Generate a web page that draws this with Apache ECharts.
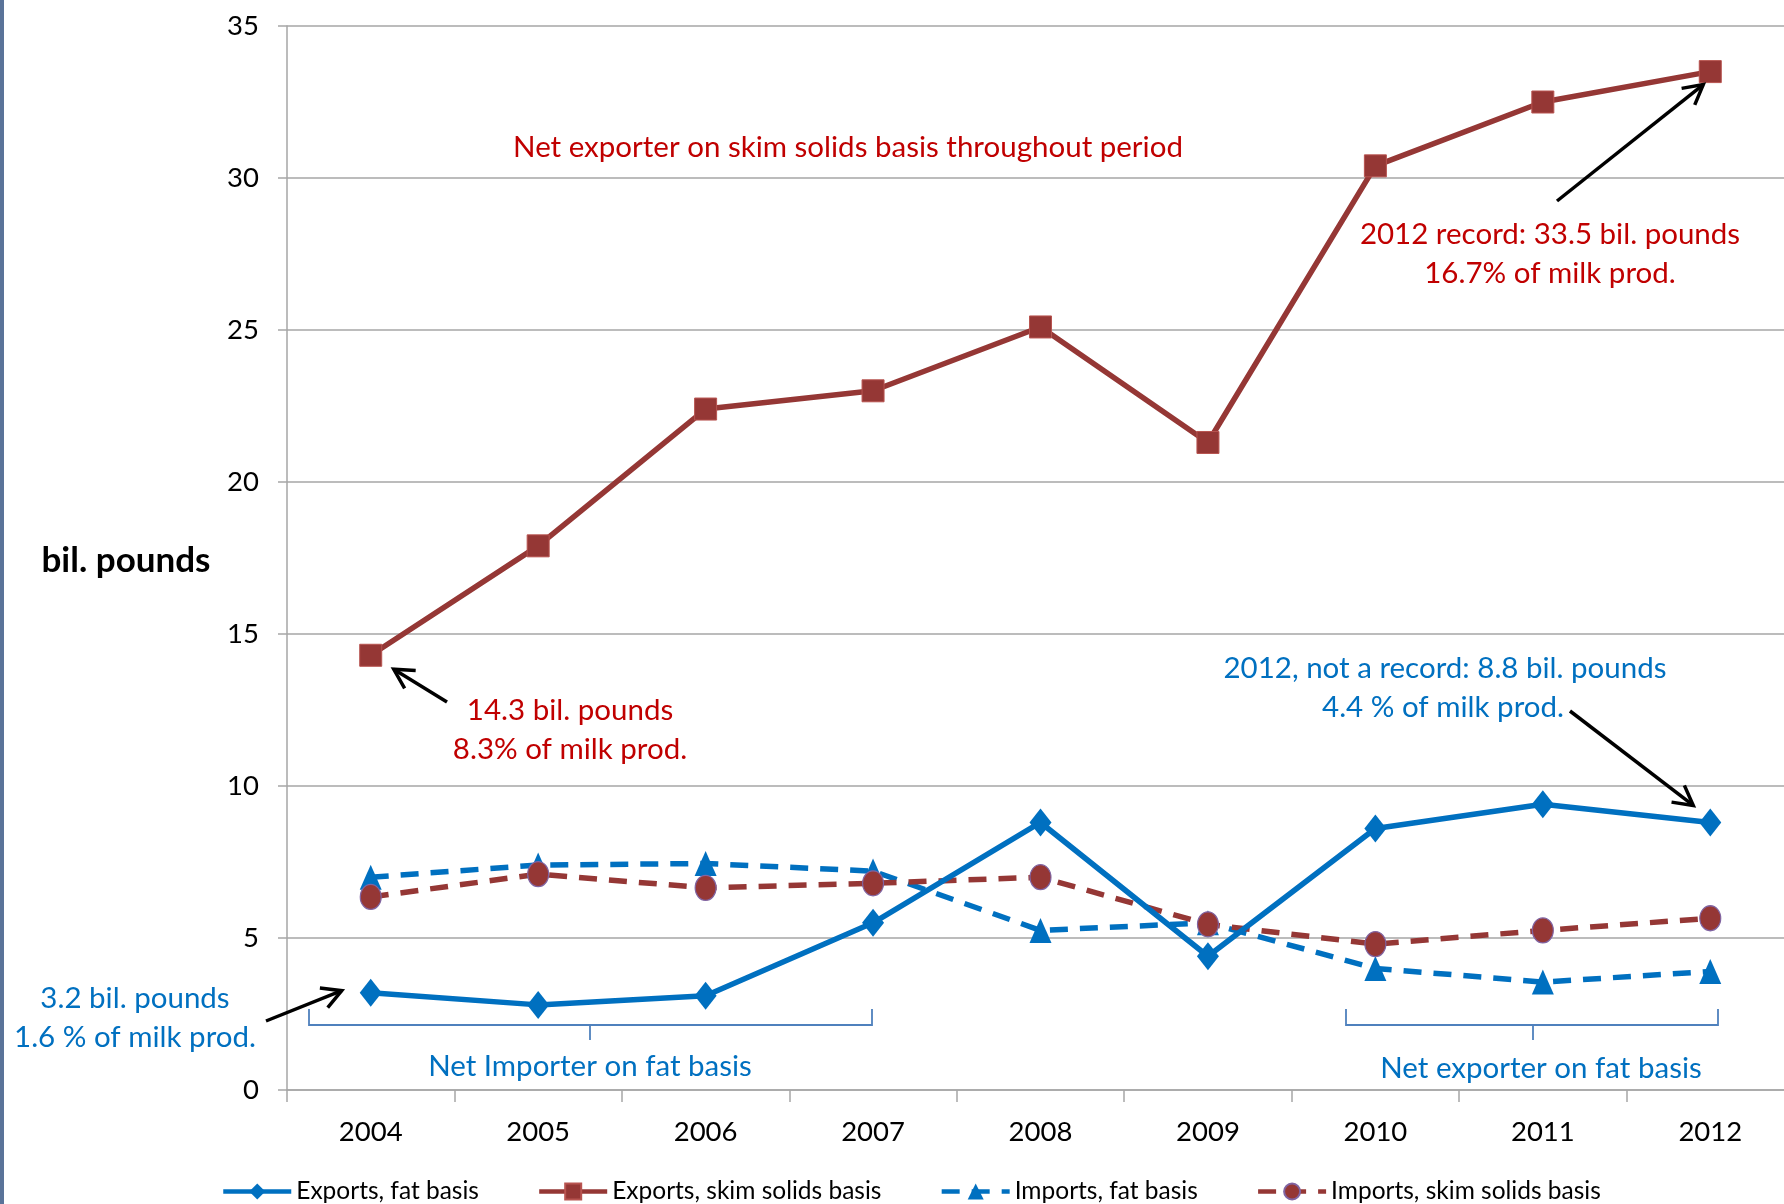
<!DOCTYPE html>
<html><head><meta charset="utf-8">
<script src="https://cdn.jsdelivr.net/npm/echarts@6/dist/echarts.min.js"></script>
<style>html,body{margin:0;padding:0;background:#fff;overflow:hidden;width:1784px;height:1204px}#c{width:1800px;height:1204px}</style>
</head><body><div id="c"></div>
<script>
// ---- data ----
const years = ['2004','2005','2006','2007','2008','2009','2010','2011','2012'];
const exportsFat  = [3.2, 2.8, 3.1, 5.5, 8.8, 4.4, 8.6, 9.4, 8.8];
const exportsSkim = [14.3, 17.9, 22.4, 23.0, 25.1, 21.3, 30.4, 32.5, 33.5];
const importsFat  = [7.0, 7.4, 7.45, 7.2, 5.25, 5.5, 4.0, 3.55, 3.9];
const importsSkim = [6.35, 7.1, 6.65, 6.8, 7.0, 5.45, 4.8, 5.25, 5.65];
const yMin = 0, yMax = 35, yStep = 5;
const seriesNames = ['Exports, fat basis','Exports, skim solids basis','Imports, fat basis','Imports, skim solids basis'];

const BLUE = '#0070C0', RED = '#953735', ANN_RED = '#C00000';
const FONT = 'Lato';
const ANN = 29.5;

const chart = echarts.init(document.getElementById('c'), null, {renderer:'canvas'});
chart.setOption({
  animation:false,
  backgroundColor:'#fff',
  grid:{left:287, right:6, top:26, bottom:114, containLabel:false},
  xAxis:{type:'category', data:years, boundaryGap:true,
    axisLine:{lineStyle:{color:'#A6A6A6', width:1.5}},
    axisTick:{show:true, length:12, lineStyle:{color:'#A6A6A6', width:1.5}},
    axisLabel:{color:'#000', fontFamily:FONT, fontSize:27.5, margin:28}},
  yAxis:{type:'value', min:yMin, max:yMax, interval:yStep,
    axisLine:{show:true, lineStyle:{color:'#A6A6A6', width:1.5}},
    axisTick:{show:true, length:9, lineStyle:{color:'#A6A6A6', width:1.5}},
    splitLine:{lineStyle:{color:'#A6A6A6', width:1.5}},
    axisLabel:{color:'#000', fontFamily:FONT, fontSize:27.5, margin:28}},
  legend:{left:216, top:1174, itemWidth:68, itemHeight:20, itemGap:58,
    lineStyle:{width:4.5},
    textStyle:{fontFamily:FONT, fontSize:24.5, color:'#000'},
    data:seriesNames},
  series:[
    {name:seriesNames[0], type:'line', data:exportsFat, symbol:'diamond', symbolSize:[22,28],
      lineStyle:{color:BLUE, width:5.5}, itemStyle:{color:BLUE}, z:5},
    {name:seriesNames[1], type:'line', data:exportsSkim, symbol:'rect', symbolSize:22,
      lineStyle:{color:RED, width:5.5}, itemStyle:{color:RED, borderColor:'#B85450', borderWidth:1}, z:5},
    {name:seriesNames[2], type:'line', data:importsFat, symbol:'triangle', symbolSize:[22,25],
      lineStyle:{color:BLUE, width:5.5, type:[18,12]}, itemStyle:{color:BLUE}, z:4},
    {name:seriesNames[3], type:'line', data:importsSkim, symbol:'circle', symbolSize:[21,25],
      lineStyle:{color:RED, width:5.5, type:[18,12]}, itemStyle:{color:RED, borderColor:'#8064A2', borderWidth:1.2}, z:4}
  ]
});

function px(i, v){ return chart.convertToPixel({xAxisIndex:0, yAxisIndex:0}, [i, v]); }
function arrow(x1,y1,x2,y2){
  const a = Math.atan2(y2-y1, x2-x1), L = 22, w = 0.5;
  const h1 = [x2 - L*Math.cos(a-w), y2 - L*Math.sin(a-w)];
  const h2 = [x2 - L*Math.cos(a+w), y2 - L*Math.sin(a+w)];
  return [
    {type:'line', shape:{x1, y1, x2, y2}, style:{stroke:'#000', lineWidth:3.5}, z:20},
    {type:'polyline', shape:{points:[h1,[x2,y2],h2]}, style:{stroke:'#000', lineWidth:3.5, fill:null}, z:20}
  ];
}
function txt(text, x, y, color, size, extra){
  return {type:'text', z:20, style:Object.assign({text, x, y, fill:color,
    fontFamily:FONT, fontSize:size||ANN, align:'center', verticalAlign:'middle', lineHeight:39}, extra||{})};
}
function bracket(x1, x2, xc, yTop, yMid, yBot){
  return [
    {type:'polyline', shape:{points:[[x1,yTop],[x1,yMid],[x2,yMid],[x2,yTop]]}, style:{stroke:'#4F81BD', lineWidth:1.8, fill:null}, z:20},
    {type:'line', shape:{x1:xc, y1:yMid, x2:xc, y2:yBot}, style:{stroke:'#4F81BD', lineWidth:1.8}, z:20}
  ];
}

const pSkim04 = px(0, exportsSkim[0]);
const pSkim12 = px(8, exportsSkim[8]);
const pFat12 = px(8, exportsFat[8]);
const pFat04 = px(0, exportsFat[0]);

const g = [];
g.push({type:'rect', shape:{x:0, y:0, width:4, height:1204}, style:{fill:'#5A7399'}, z:30});
g.push({type:'text', z:20, style:{text:'bil. pounds', x:126, y:561, fill:'#000', fontFamily:FONT, fontSize:35, fontWeight:'bold', align:'center', verticalAlign:'middle'}});
g.push(txt('Net exporter on skim solids basis throughout period', 848, 147, ANN_RED));
g.push(txt('2012 record: 33.5 bil. pounds\n16.7% of milk prod.', 1550, 254, ANN_RED));
g.push(...arrow(1557, 201, pSkim12[0]-7, pSkim12[1]+13));
g.push(txt('14.3 bil. pounds\n8.3% of milk prod.', 570, 730, ANN_RED));
g.push(...arrow(447, 702, pSkim04[0]+23, pSkim04[1]+14));
g.push(txt('2012, not a record: 8.8 bil. pounds', 1445, 668, BLUE));
g.push(txt('4.4 % of milk prod.', 1443, 707, BLUE));
g.push(...arrow(1570, 711, pFat12[0]-17, pFat12[1]-17));
g.push(txt('3.2 bil. pounds\n1.6 % of milk prod.', 135, 1018, BLUE));
g.push(...arrow(266, 1021, pFat04[0]-29, pFat04[1]-2));
g.push(...bracket(309, 872, 590, 1009, 1025, 1040));
g.push(txt('Net Importer on fat basis', 590, 1066, BLUE));
g.push(...bracket(1346, 1718, 1533, 1009, 1025, 1040));
g.push(txt('Net exporter on fat basis', 1541, 1068, BLUE));
chart.setOption({graphic:{elements:g}});
</script></body></html>
